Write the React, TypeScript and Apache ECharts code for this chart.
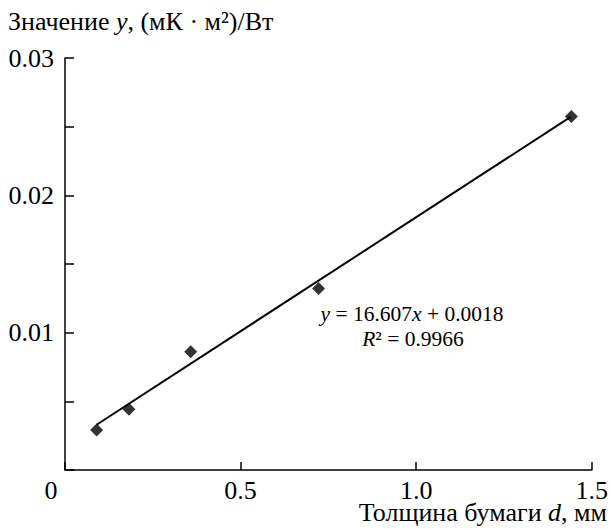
import React, { useEffect, useRef } from "react";
import * as echarts from "echarts";

const pointsX = [0.09, 0.182, 0.358, 0.722, 1.442];
const pointsY = [0.00292, 0.00443, 0.00861, 0.01321, 0.02574];
const trendX = [0.09, 1.44];
const trendY = [0.003295, 0.025714];
const xTicks = [0, 0.5, 1.0, 1.5];
const yTicks = [0, 0.01, 0.02, 0.03];

const FONT = "Liberation Serif";
const FS = 26;
const EQ_FS = 21.5;

export default function App() {
  const ref = useRef<HTMLDivElement>(null);
  useEffect(() => {
    document.body.style.margin = "0";
    if (!ref.current) return;
    const chart = echarts.init(ref.current, null, { renderer: "svg" });
    const rich = {
      a: { fontFamily: FONT, fontSize: FS, color: "#000", lineHeight: 20 },
      i: { fontFamily: FONT, fontSize: FS, fontStyle: "italic", color: "#000", lineHeight: 20 },
    };
    const richEq = {
      a: { fontFamily: FONT, fontSize: EQ_FS, color: "#000" },
      i: { fontFamily: FONT, fontSize: EQ_FS, fontStyle: "italic", color: "#000" },
    };
    chart.setOption({
      animation: false,
      backgroundColor: "#fff",
      grid: { left: 65, right: 18, top: 58, bottom: 59 },
      xAxis: {
        type: "value",
        min: xTicks[0],
        max: xTicks[xTicks.length - 1],
        interval: 0.5,
        splitLine: { show: false },
        axisLine: { lineStyle: { color: "#000", width: 1.5 } },
        axisTick: { inside: true, length: 8, lineStyle: { color: "#000", width: 1.5 } },
        axisLabel: {
          fontFamily: FONT,
          fontSize: FS,
          lineHeight: 20,
          color: "#000",
          margin: 10,
          formatter: (v: number) => (v === 0 ? "" : v.toFixed(1)),
        },
      },
      yAxis: {
        type: "value",
        min: yTicks[0],
        max: yTicks[yTicks.length - 1],
        interval: 0.01,
        splitLine: { show: false },
        axisLine: { show: true, lineStyle: { color: "#000", width: 1.5 } },
        axisTick: { show: true, inside: true, length: 9, lineStyle: { color: "#000", width: 1.5 } },
        minorTick: { show: true, splitNumber: 2, length: 9, lineStyle: { color: "#000", width: 1.5 } },
        axisLabel: {
          fontFamily: FONT,
          fontSize: FS,
          color: "#000",
          margin: 11,
          formatter: (v: number) => (v === 0 ? "" : v.toFixed(2)),
        },
      },
      series: [
        {
          type: "line",
          data: trendX.map((x, i) => [x, trendY[i]]),
          symbol: "none",
          lineStyle: { color: "#000", width: 2 },
          silent: true,
        },
        {
          type: "scatter",
          data: pointsX.map((x, i) => [x, pointsY[i]]),
          symbol: "diamond",
          symbolSize: 13,
          itemStyle: { color: "#000" },
        },
      ],
      graphic: [
        {
          type: "text",
          x: 8,
          y: 21,
          style: {
            text: "{a|Значение }{i|y}{a|, (мК · м²)/Вт}",
            rich,
            align: "left",
            verticalAlign: "middle",
          },
        },
        {
          type: "text",
          x: 607,
          y: 512,
          style: {
            text: "{a|Толщина бумаги }{i|d}{a|, мм}",
            rich,
            align: "right",
            verticalAlign: "middle",
          },
        },
        {
          type: "text",
          x: 51,
          y: 490,
          style: {
            text: "0",
            fontFamily: FONT,
            fontSize: FS,
            lineHeight: 20,
            fill: "#000",
            align: "center",
            verticalAlign: "middle",
          },
        },
        {
          type: "text",
          x: 412,
          y: 314,
          style: {
            text: "{i|y}{a| = 16.607}{i|x}{a| + 0.0018}",
            rich: richEq,
            align: "center",
            verticalAlign: "middle",
          },
        },
        {
          type: "text",
          x: 413,
          y: 339,
          style: {
            text: "{i|R}{a|² = 0.9966}",
            rich: richEq,
            align: "center",
            verticalAlign: "middle",
          },
        },
      ],
    });
    return () => chart.dispose();
  }, []);
  return <div ref={ref} style={{ width: 611, height: 529 }} />;
}
